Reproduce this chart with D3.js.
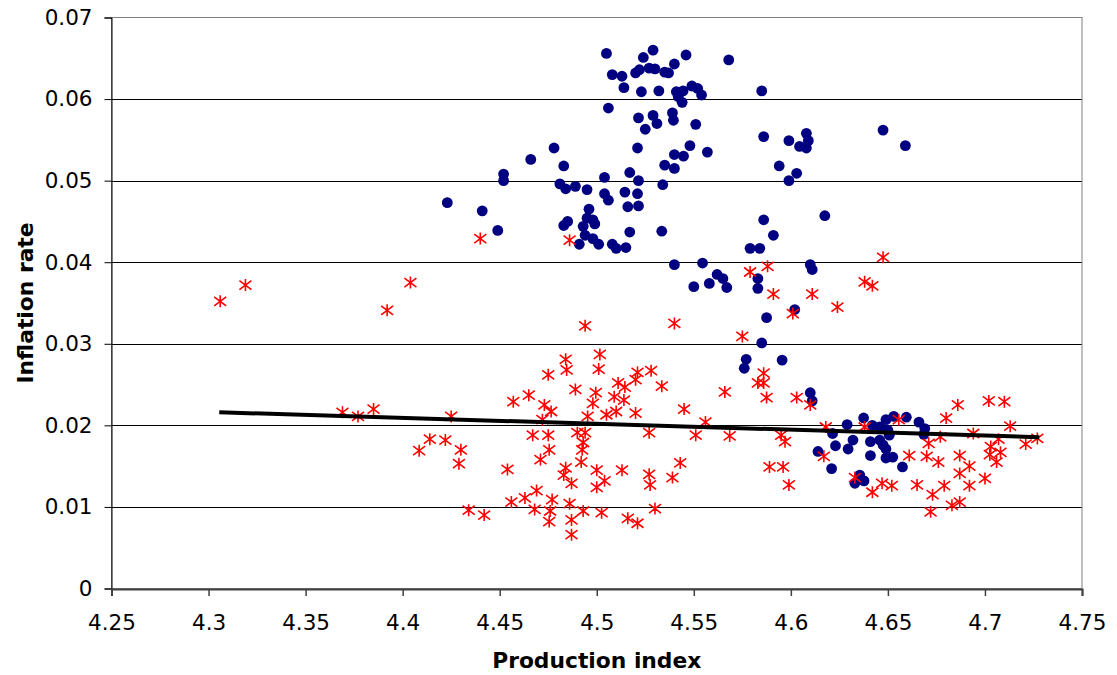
<!DOCTYPE html>
<html>
<head>
<meta charset="utf-8">
<script src="https://cdn.jsdelivr.net/npm/d3@7"></script>
<style>
  html, body { margin: 0; padding: 0; background: #fff; }
  svg { display: block; font-family: "DejaVu Sans", Verdana, sans-serif; }
</style>
</head>
<body>
<div id="chart"></div>
<script>
// axis ticks
const xTicks = [4.25, 4.3, 4.35, 4.4, 4.45, 4.5, 4.55, 4.6, 4.65, 4.7, 4.75];
const yTicks = [0, 0.01, 0.02, 0.03, 0.04, 0.05, 0.06, 0.07];

// series 1: blue dots [production index, inflation rate]
const blueDots = [
  [4.505,0.0656],[4.524,0.0651],[4.529,0.0660],[4.546,0.0654],[4.568,0.0648],
  [4.508,0.0630],[4.513,0.0628],[4.520,0.0632],[4.522,0.0636],[4.527,0.0638],[4.530,0.0637],[4.535,0.0633],[4.537,0.0632],[4.540,0.0643],
  [4.514,0.0614],[4.523,0.0609],[4.532,0.0610],[4.541,0.0609],[4.5445,0.0610],[4.549,0.0616],[4.552,0.0613],[4.554,0.0605],[4.542,0.0603],[4.544,0.0596],
  [4.506,0.0589],[4.5215,0.0577],[4.529,0.0580],[4.531,0.0570],[4.539,0.0583],[4.5395,0.0574],[4.551,0.0569],[4.525,0.0563],
  [4.478,0.0540],[4.466,0.0526],[4.521,0.0540],[4.548,0.0543],[4.540,0.0532],[4.5447,0.0530],[4.557,0.0535],[4.535,0.0519],[4.540,0.0515],[4.483,0.0518],
  [4.452,0.0508],[4.452,0.0500],[4.504,0.0504],[4.517,0.0510],[4.5215,0.0500],[4.534,0.0495],[4.481,0.0496],[4.484,0.0490],[4.489,0.0493],[4.495,0.0489],
  [4.504,0.0484],[4.506,0.0476],[4.5145,0.0486],[4.521,0.0484],[4.516,0.0468],[4.5215,0.0469],
  [4.423,0.0473],[4.441,0.0463],[4.449,0.0439],[4.496,0.0465],[4.495,0.0454],[4.498,0.0452],[4.499,0.0447],[4.493,0.0444],[4.483,0.0445],[4.485,0.0450],
  [4.517,0.0437],[4.5335,0.0438],[4.494,0.0433],[4.491,0.0422],[4.498,0.0429],[4.501,0.0422],[4.508,0.0422],[4.510,0.0417],[4.515,0.0418],
  [4.540,0.0397],[4.5545,0.0399],[4.562,0.0385],[4.565,0.0380],[4.558,0.0374],[4.550,0.0370],[4.567,0.0369],
  [4.586,0.0452],[4.6175,0.0457],[4.591,0.0433],[4.579,0.0417],[4.584,0.0417],[4.583,0.0380],[4.583,0.0368],[4.610,0.0397],[4.611,0.0391],
  [4.602,0.0342],[4.5875,0.0332],[4.585,0.0301],[4.577,0.0281],[4.576,0.0270],[4.5955,0.0280],[4.610,0.0240],[4.611,0.0230],
  [4.585,0.0610],[4.586,0.0554],[4.599,0.0549],[4.608,0.0558],[4.609,0.0549],[4.6045,0.0542],[4.608,0.0540],[4.6475,0.0562],[4.659,0.0543],
  [4.594,0.0518],[4.603,0.0509],[4.599,0.0500],
  [4.629,0.0201],[4.6375,0.0209],[4.642,0.0200],[4.649,0.0207],[4.653,0.0211],[4.6595,0.0210],[4.666,0.0204],[4.669,0.0196],[4.6685,0.0189],
  [4.6215,0.0190],[4.632,0.0182],[4.6295,0.0171],[4.623,0.0175],[4.614,0.0168],[4.641,0.0180],[4.6458,0.0182],[4.6475,0.0176],[4.649,0.0171],
  [4.6507,0.0188],[4.650,0.0194],[4.641,0.0163],[4.649,0.0160],[4.6525,0.0161],[4.6575,0.0149],[4.621,0.0147],[4.6355,0.0139],[4.6377,0.0132],
  [4.633,0.0129],[4.6458,0.0198]
];

// series 2: red stars [production index, inflation rate]
const redStars = [
  [4.306,0.0352],[4.319,0.0372],[4.392,0.0341],[4.404,0.0375],[4.440,0.0429],[4.486,0.0427],[4.494,0.0322],[4.540,0.0325],[4.575,0.0309],
  [4.579,0.0388],[4.588,0.0395],[4.6475,0.0406],[4.638,0.0376],[4.642,0.0371],[4.591,0.0361],[4.611,0.0361],[4.624,0.0345],[4.601,0.0337],
  [4.369,0.0216],[4.377,0.0211],[4.385,0.0220],[4.425,0.0211],[4.4085,0.0169],[4.414,0.0183],[4.422,0.0182],[4.430,0.0170],[4.429,0.0153],[4.434,0.0096],
  [4.484,0.0281],[4.4845,0.0268],[4.5016,0.0287],[4.501,0.0269],[4.475,0.0262],[4.521,0.0265],[4.520,0.0256],[4.528,0.0267],[4.511,0.0252],
  [4.5145,0.0247],[4.489,0.0244],[4.5335,0.0248],[4.465,0.0237],[4.457,0.0229],[4.4995,0.0240],[4.509,0.0235],[4.514,0.0231],[4.566,0.0241],
  [4.473,0.0225],[4.4765,0.0217],[4.498,0.0227],[4.4953,0.0211],[4.505,0.0213],[4.510,0.0217],[4.520,0.0215],[4.545,0.0220],[4.556,0.0204],[4.472,0.0207],
  [4.490,0.0191],[4.494,0.0191],[4.493,0.0179],[4.4925,0.0170],[4.467,0.0188],[4.475,0.0188],[4.527,0.0191],[4.551,0.0188],[4.4755,0.0170],
  [4.471,0.0158],[4.492,0.0155],[4.543,0.0154],[4.454,0.0146],[4.484,0.0148],[4.483,0.0139],[4.487,0.0129],[4.500,0.0145],[4.504,0.0132],
  [4.500,0.0124],[4.513,0.0145],[4.527,0.0140],[4.5275,0.0127],[4.539,0.0136],
  [4.469,0.0120],[4.463,0.0111],[4.456,0.0106],[4.442,0.0090],[4.468,0.0097],[4.477,0.0109],[4.476,0.0095],[4.4755,0.0082],[4.486,0.0104],
  [4.487,0.0084],[4.487,0.0066],[4.493,0.0095],[4.5025,0.0093],[4.516,0.0086],[4.521,0.0080],[4.530,0.0098],
  [4.586,0.0264],[4.586,0.0252],[4.583,0.0252],[4.5875,0.0234],[4.603,0.0234],[4.610,0.0225],[4.5685,0.0187],[4.595,0.0188],[4.597,0.0180],
  [4.618,0.0198],[4.617,0.0162],[4.638,0.0198],[4.6556,0.0207],[4.589,0.0149],[4.596,0.0149],[4.599,0.0127],[4.633,0.0136],[4.642,0.0118],
  [4.647,0.0129],[4.652,0.0126],[4.661,0.0163],[4.665,0.0127],[4.670,0.0162],[4.671,0.0178],[4.676,0.0155],[4.677,0.0186],[4.680,0.0209],
  [4.686,0.0225],[4.673,0.0115],[4.672,0.0094],[4.679,0.0126],[4.683,0.0102],[4.687,0.0106],[4.687,0.0163],[4.687,0.0141],[4.692,0.0150],
  [4.692,0.0126],[4.694,0.0190],[4.700,0.0135],[4.702,0.0230],[4.710,0.0229],[4.713,0.0199],[4.707,0.0183],[4.703,0.0174],[4.708,0.0167],
  [4.721,0.0177],[4.727,0.0184],[4.7025,0.0164],[4.706,0.0155]
];

// linear trend line end points
const trendLine = [[4.3055, 0.0216], [4.728, 0.01854]];

const width = 1117, height = 675;
const margin = {left: 111.5, right: 1082, top: 17.5, bottom: 588.5};

const svg = d3.select("#chart").append("svg")
  .attr("width", width)
  .attr("height", height);

const x = d3.scaleLinear().domain([4.25, 4.75]).range([margin.left, margin.right]);
const y = d3.scaleLinear().domain([0, 0.07]).range([margin.bottom, margin.top]);

// gridlines
svg.append("g")
  .selectAll("line")
  .data(yTicks.filter(d => d > 0 && d < 0.07))
  .join("line")
    .attr("x1", margin.left)
    .attr("x2", margin.right)
    .attr("y1", d => Math.round(y(d)) + 0.5)
    .attr("y2", d => Math.round(y(d)) + 0.5)
    .attr("stroke", "#000")
    .attr("stroke-width", 1);

// plot area border
svg.append("rect")
  .attr("x", margin.left)
  .attr("y", margin.top)
  .attr("width", margin.right - margin.left)
  .attr("height", margin.bottom - margin.top)
  .attr("fill", "none")
  .attr("stroke", "#808080")
  .attr("stroke-width", 1);

// y axis
const yAxis = svg.append("g")
  .attr("transform", `translate(${margin.left},0)`)
  .call(d3.axisLeft(y).tickValues(yTicks).tickSize(7).tickPadding(12).tickFormat(d3.format("")));
yAxis.select(".domain").attr("stroke", "#000");
yAxis.selectAll(".tick line").attr("stroke", "#000");
yAxis.selectAll("text").attr("font-size", "21.5px").attr("fill", "#000")
  .attr("font-family", "DejaVu Sans, Verdana, sans-serif");

// x axis
const xAxis = svg.append("g")
  .attr("transform", `translate(0,${margin.bottom + 0.5})`)
  .call(d3.axisBottom(x).tickValues(xTicks).tickSize(7).tickPadding(19).tickFormat(d3.format("")));
xAxis.select(".domain").attr("stroke", "#404040").attr("stroke-width", 2);
xAxis.selectAll(".tick line").attr("stroke", "#404040").attr("stroke-width", 1.5);
xAxis.selectAll("text").attr("font-size", "21.5px").attr("fill", "#000")
  .attr("font-family", "DejaVu Sans, Verdana, sans-serif");

// blue dots
svg.append("g")
  .selectAll("circle")
  .data(blueDots)
  .join("circle")
    .attr("cx", d => x(d[0]))
    .attr("cy", d => y(d[1]))
    .attr("r", 5.4)
    .attr("fill", "#000080");

// red star markers
const s = 6;
const starPath = `M0,${-s}L0,${s}M${-s},${-s * 0.75}L${s},${s * 0.75}M${-s},${s * 0.75}L${s},${-s * 0.75}`;
svg.append("g")
  .selectAll("path")
  .data(redStars)
  .join("path")
    .attr("transform", d => `translate(${x(d[0])},${y(d[1])})`)
    .attr("d", starPath)
    .attr("fill", "none")
    .attr("stroke", "#ff0000")
    .attr("stroke-width", 1.6);

// trend line
svg.append("path")
  .datum(trendLine)
  .attr("d", d3.line().x(d => x(d[0])).y(d => y(d[1])))
  .attr("fill", "none")
  .attr("stroke", "#000")
  .attr("stroke-width", 4);

// axis titles
svg.append("text")
  .attr("x", (margin.left + margin.right) / 2)
  .attr("y", 668)
  .attr("text-anchor", "middle")
  .attr("font-size", "21.8px")
  .attr("font-weight", "bold")
  .text("Production index");

svg.append("text")
  .attr("transform", `translate(32.5,${(margin.top + margin.bottom) / 2}) rotate(-90)`)
  .attr("text-anchor", "middle")
  .attr("font-size", "21.8px")
  .attr("font-weight", "bold")
  .text("Inflation rate");
</script>
</body>
</html>
